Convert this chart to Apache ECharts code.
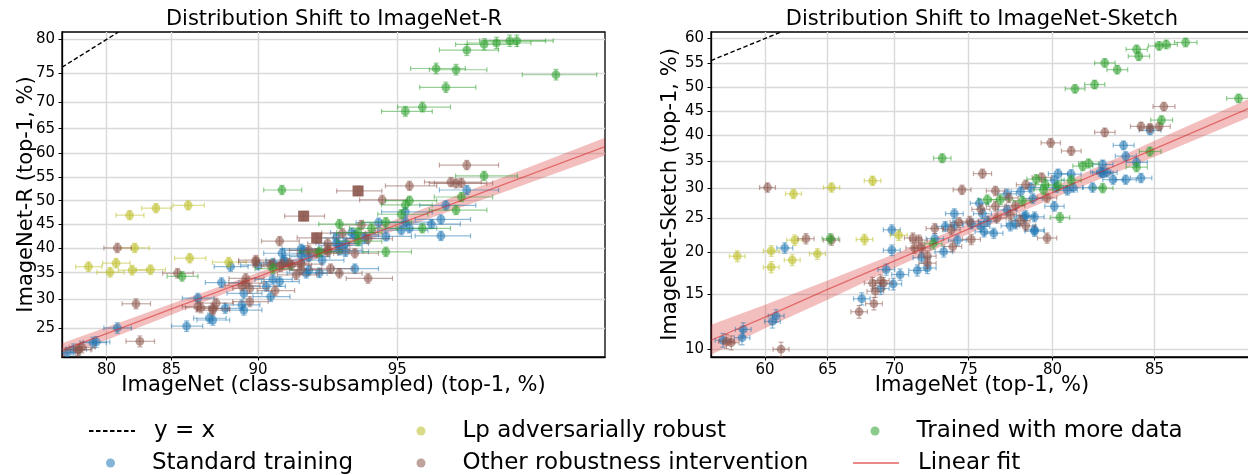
<!DOCTYPE html>
<html><head><meta charset="utf-8">
<script src="https://cdn.jsdelivr.net/npm/echarts@6/dist/echarts.min.js"></script>
<style>html,body{margin:0;padding:0;background:#fff}#c{width:1248px;height:475px}</style>
</head><body><div id="c"></div>
<script>
// ---------------- DATA (ImageNet acc %, shifted acc %) ----------------
// Left panel: ImageNet-R
const rStandard = [[96.5,52.3],[96.1,49.0],[95.2,47.6],[96.0,46.0],[94.5,45.3],[95.2,45.4],[95.8,45.0],[95.3,44.1],[95.1,43.7],[96.0,42.5],[93.8,42.7],[93.2,42.1],[94.1,42.0],[94.7,42.4],[93.7,43.2],[93.2,41.0],[93.3,40.5],[93.5,40.9],[92.0,39.5],[93.3,39.5],[93.5,39.2],[92.7,37.5],[92.2,38.2],[91.9,38.5],[91.2,37.5],[93.8,35.8],[92.2,35.5],[90.7,36.9],[90.0,36.5],[89.3,31.1],[90.4,32.4],[91.0,33.3],[90.6,30.5],[92.1,34.9],[92.6,35.0],[91.2,37.1],[88.6,36.2],[88.1,33.1],[90.7,33.7],[86.7,30.2],[88.3,28.4],[89.2,29.0],[89.3,28.1],[87.4,26.7],[87.6,26.4],[86.0,25.4],[80.9,25.1],[78.8,22.8],[77.0,21.8],[79.1,22.9],[76.4,21.3],[91.1,38.9],[91.9,39.8]];
const rLp = [[81.9,46.9],[83.9,48.4],[86.1,49.0],[82.3,40.0],[78.4,36.2],[80.8,36.9],[80.3,35.1],[82.1,35.5],[83.5,35.6],[86.2,37.9],[88.5,37.1]];
const rOther = [[96.5,57.6],[95.3,53.2],[96.2,54.0],[96.3,53.7],[96.4,53.8],[94.6,50.2],[94.0,44.8],[93.4,43.1],[94.2,41.9],[91.0,41.4],[92.9,40.9],[92.9,39.7],[92.2,39.5],[93.8,38.9],[92.5,38.9],[92.9,39.2],[94.2,33.9],[93.3,34.9],[93.0,35.8],[91.7,34.6],[91.4,36.9],[91.0,36.2],[89.9,37.5],[89.4,33.9],[89.2,32.5],[90.8,31.6],[91.9,35.6],[85.4,34.9],[90.6,36.5],[91.1,36.7],[91.5,36.5],[91.9,36.7],[89.9,37.1],[89.4,33.0],[89.6,32.0],[87.8,29.3],[87.6,28.1],[86.7,28.7],[89.6,29.6],[80.9,40.0],[82.4,29.2],[82.7,23.0],[77.5,21.8],[77.8,22.1],[77.4,21.7],[86.9,28.5],[87.6,28.4]];
const rOtherHighlighted = [[93.9,52.1],[92.0,46.7],[92.5,42.1]];
const rMoreData = [[96.8,79.3],[97.0,79.5],[97.2,79.8],[97.3,79.8],[96.5,78.5],[95.9,75.7],[96.3,75.5],[97.8,74.7],[96.1,72.6],[95.6,69.1],[95.2,68.3],[96.8,55.3],[96.4,50.8],[95.3,50.0],[95.2,49.1],[96.3,48.0],[95.1,47.1],[91.1,52.3],[93.3,45.0],[94.7,45.4],[94.3,44.1],[95.6,44.1],[93.9,43.2],[93.9,41.4],[94.7,39.2],[92.6,39.2],[90.7,35.8],[85.7,34.3]];
// linear fit: x, fit, lower, upper
const rFitX  = [75.9, 80, 85, 90, 93, 95, 97, 98.3];
const rFitY  = [21.7, 24.2, 28.3, 34.2, 39.7, 44.9, 52.9, 61.4];
const rFitLo = [20.7, 23.2, 27.3, 33.5, 38.9, 43.8, 51.3, 59.6];
const rFitHi = [22.7, 25.2, 29.2, 35.0, 40.5, 46.1, 54.5, 63.2];

// Right panel: ImageNet-Sketch
const sStandard = [[84.8,41.0],[83.6,38.0],[83.7,35.9],[84.2,34.7],[82.6,34.3],[84.4,31.8],[82.6,32.7],[82.8,32.8],[83.1,31.5],[83.7,31.5],[80.3,32.6],[81.0,32.5],[81.1,30.1],[82.1,30.1],[80.8,29.6],[80.2,30.1],[82.5,32.9],[80.1,31.4],[78.8,30.1],[78.2,29.4],[77.4,29.0],[78.9,28.2],[80.1,26.9],[75.7,27.4],[75.9,25.7],[77.4,26.3],[78.4,25.2],[79.0,25.2],[74.1,25.7],[75.2,24.1],[76.2,24.5],[75.8,23.7],[76.0,22.9],[76.6,22.7],[77.6,23.8],[77.9,24.1],[79.0,23.2],[73.5,23.7],[74.1,23.9],[69.8,23.2],[72.8,21.9],[73.4,20.1],[74.3,21.7],[69.8,20.3],[71.9,19.3],[71.6,17.7],[72.3,18.0],[70.4,17.2],[69.4,17.8],[69.9,16.1],[61.6,20.6],[69.0,15.6],[67.6,14.5],[60.9,12.8],[60.6,12.3],[58.2,11.6],[58.1,10.9],[56.5,10.7],[78.5,25.4],[79.0,23.0]];
const sLp = [[62.3,29.0],[65.3,30.1],[68.4,31.3],[70.3,22.4],[62.4,21.7],[67.8,21.8],[60.5,20.2],[64.2,19.8],[57.7,19.5],[62.2,19.0],[60.5,18.1]];
const sOther = [[60.2,30.1],[85.4,45.9],[84.4,41.8],[84.8,41.5],[85.2,41.8],[82.7,40.6],[79.9,38.5],[81.0,36.9],[75.9,32.6],[74.6,29.7],[76.7,29.5],[79.4,31.9],[78.5,30.6],[77.5,28.3],[79.7,28.3],[76.7,26.9],[77.9,27.0],[75.8,26.4],[76.8,25.0],[77.6,25.5],[78.2,24.6],[74.4,24.3],[75.1,24.5],[78.5,23.8],[79.7,22.0],[72.8,23.4],[73.9,23.2],[71.3,22.0],[71.7,21.7],[71.4,20.6],[71.9,20.6],[74.0,20.8],[75.2,21.8],[72.3,18.6],[72.3,19.5],[69.2,16.2],[63.3,21.9],[65.3,21.7],[68.4,16.2],[69.0,16.5],[68.6,15.3],[68.5,14.0],[67.4,13.2],[56.8,10.6],[57.2,10.5],[61.3,10.0]];
const sMoreData = [[73.3,35.5],[86.3,59.2],[85.5,58.8],[85.2,58.5],[84.2,57.8],[84.3,56.4],[82.7,55.0],[83.3,53.6],[82.2,50.5],[81.2,49.6],[88.3,47.6],[85.3,43.1],[84.8,36.8],[81.9,34.5],[81.6,34.0],[84.2,33.8],[79.1,31.6],[79.6,30.6],[82.6,30.0],[80.3,30.4],[81.0,31.4],[79.5,29.7],[80.4,25.1],[76.2,28.0],[77.0,28.0],[78.3,27.8],[72.7,21.2],[65.2,21.9]];
const sFitX  = [55.5, 60, 65, 70, 75, 80, 85, 88.8];
const sFitY  = [10.7, 12.7, 15.5, 18.9, 23.3, 29.2, 37.3, 45.9];
const sFitLo = [9.6, 11.7, 14.4, 18.0, 22.6, 28.2, 35.8, 44.0];
const sFitHi = [12.0, 13.9, 16.5, 19.8, 24.1, 30.1, 38.9, 47.9];

// tick labels
const rXTicks = [80, 85, 90, 95];
const rYTicks = [25, 30, 35, 40, 45, 50, 55, 60, 65, 70, 75, 80];
const sXTicks = [60, 65, 70, 75, 80, 85];
const sYTicks = [10, 15, 20, 25, 30, 35, 40, 45, 50, 55, 60];

// ---------------- helpers ----------------
const FONT = 'DejaVu Sans';
const C = {blue:'#1f77b4', green:'#2ca02c', brown:'#8c564b', olive:'#bcbd22', red:'#d62728'};
const logit = p => Math.log(p / (100 - p));
const invLogit = v => 100 / (1 + Math.exp(-v));
// binomial 95% interval around each accuracy, shown on the logit axes
function withCI(points, nx, ny) {
  return points.map(([a, b]) => {
    const ea = 1.96 * Math.sqrt(a * (100 - a) / nx);
    const eb = 1.96 * Math.sqrt(b * (100 - b) / ny);
    return [logit(a), logit(b), logit(a - ea), logit(a + ea), logit(b - eb), logit(b + eb)];
  });
}
function pointRenderer(color, square) {
  return function (params, api) {
    const x = api.value(0), y = api.value(1);
    const c = api.coord([x, y]);
    const l = api.coord([api.value(2), y]), r = api.coord([api.value(3), y]);
    const b = api.coord([x, api.value(4)]), t = api.coord([x, api.value(5)]);
    const st = {stroke: color, lineWidth: 1.2, opacity: 0.5};
    const cap = 2.5;
    const seg = (x1, y1, x2, y2) => ({type: 'line', shape: {x1, y1, x2, y2}, style: st});
    const ch = [
      seg(l[0], c[1], r[0], c[1]), seg(l[0], c[1] - cap, l[0], c[1] + cap), seg(r[0], c[1] - cap, r[0], c[1] + cap),
      seg(c[0], b[1], c[0], t[1]), seg(c[0] - cap, b[1], c[0] + cap, b[1]), seg(c[0] - cap, t[1], c[0] + cap, t[1])
    ];
    if (square) ch.push({type: 'rect', shape: {x: c[0] - 5.5, y: c[1] - 5.5, width: 11, height: 11}, style: {fill: color, opacity: 0.9}});
    else ch.push({type: 'circle', shape: {cx: c[0], cy: c[1], r: 4.4}, style: {fill: color, opacity: 0.58}});
    return {type: 'group', children: ch};
  };
}
function pointSeries(name, pts, color, gi, nx, ny, square) {
  return {
    type: 'custom', name, xAxisIndex: gi, yAxisIndex: gi, clip: true, z: square ? 4 : 3,
    itemStyle: {color},
    encode: {x: [0, 2, 3], y: [1, 4, 5]},
    renderItem: pointRenderer(color, square),
    data: withCI(pts, nx, ny)
  };
}
function bandSeries(gi, xs, lo, hi) {
  const upper = xs.map((x, i) => [logit(x), logit(hi[i])]);
  const lower = xs.map((x, i) => [logit(x), logit(lo[i])]).reverse();
  const poly = upper.concat(lower);
  return {
    type: 'custom', name: 'Linear fit band', xAxisIndex: gi, yAxisIndex: gi, z: 2, silent: true,
    data: [poly[0]],
    renderItem: (params, api) => ({
      type: 'polygon',
      shape: {points: poly.map(p => api.coord(p))},
      style: {fill: 'rgba(214,39,40,0.3)', stroke: 'none'}
    })
  };
}
function fitSeries(gi, xs, ys) {
  return {
    type: 'line', name: 'Linear fit', xAxisIndex: gi, yAxisIndex: gi, z: 5, symbol: 'none', silent: true,
    lineStyle: {color: 'rgba(214,39,40,0.55)', width: 1.3},
    itemStyle: {color: 'rgba(214,39,40,0.55)'},
    data: xs.map((x, i) => [logit(x), logit(ys[i])])
  };
}
function diagSeries(gi, lo, hi) {
  return {
    type: 'line', name: 'y = x', xAxisIndex: gi, yAxisIndex: gi, z: 5, symbol: 'none', silent: true,
    lineStyle: {color: '#000', width: 1.4, type: [4.5, 2.5]},
    itemStyle: {color: '#000'},
    data: [[logit(lo), logit(lo)], [logit(hi), logit(hi)]]
  };
}
function valueAxis(gi, min, max, ticks, isX, name, nameGap) {
  const cv = ticks.map(logit);
  return {
    type: 'value', gridIndex: gi, min: logit(min), max: logit(max),
    name, nameLocation: 'middle', nameGap, nameMoveOverlap: false,
    nameTextStyle: {fontFamily: FONT, fontSize: 21, color: '#000'},
    axisLine: {show: true, onZero: false, lineStyle: {color: '#000', width: 1.3}},
    axisTick: {show: true, length: 3.5, inside: false, customValues: cv, lineStyle: {color: '#000', width: 1}},
    axisLabel: {customValues: cv, margin: isX ? 6 : 7, fontFamily: FONT, fontSize: 15, color: '#000',
      formatter: v => String(Math.round(invLogit(v)))},
    splitLine: {show: true, lineStyle: {color: '#d9d9d9', width: 1.4}}
  };
}

// axis limits
const rX = [75.9, 98.3], rY = [20.7, 81.0];
const sX = [55.5, 88.8], sY = [9.43, 61.3];
const NX_R = 4600, NY_R = 10000, NX_S = 22000, NY_S = 12000;

const chart = echarts.init(document.getElementById('c'), null, {renderer: 'canvas'});
function legendAt(left, top, item, isLine) {
  const gap = isLine ? 14 : 32;
  return {
    left, top, padding: 0, itemWidth: isLine ? 46 : 9, itemHeight: 9, selectedMode: false,
    formatter: n => '{s|}' + n,
    textStyle: {fontFamily: FONT, fontSize: 23, color: '#000', lineHeight: 26, rich: {s: {width: gap}}},
    data: [item]
  };
}
const hidden = {color: 'rgba(0,0,0,0)', opacity: 0, borderWidth: 0};
chart.setOption({
  animation: false,
  backgroundColor: '#fff',
  title: [
    {text: 'Distribution Shift to ImageNet-R', left: 334, top: 8, textAlign: 'center', padding: 0,
     textStyle: {fontFamily: FONT, fontSize: 21, fontWeight: 'normal', color: '#000', lineHeight: 24}},
    {text: 'Distribution Shift to ImageNet-Sketch', left: 982, top: 8, textAlign: 'center', padding: 0,
     textStyle: {fontFamily: FONT, fontSize: 21, fontWeight: 'normal', color: '#000', lineHeight: 24}}
  ],
  grid: [
    {left: 62, right: 643, top: 32, bottom: 118, show: true, borderColor: '#000', borderWidth: 1.3, backgroundColor: '#fff', containLabel: false, outerBoundsMode: 'none'},
    {left: 711, right: -5, top: 32, bottom: 118, show: true, borderColor: '#000', borderWidth: 1.3, backgroundColor: '#fff', containLabel: false, outerBoundsMode: 'none'}
  ],
  xAxis: [
    valueAxis(0, rX[0], rX[1], rXTicks, true, 'ImageNet (class-subsampled) (top-1, %)', 18),
    valueAxis(1, sX[0], sX[1], sXTicks, true, 'ImageNet (top-1, %)', 18)
  ],
  yAxis: [
    valueAxis(0, rY[0], rY[1], rYTicks, false, 'ImageNet-R (top-1, %)', 25),
    valueAxis(1, sY[0], sY[1], sYTicks, false, 'ImageNet-Sketch (top-1, %)', 30)
  ],
  legend: [
    legendAt(88, 418, {name: 'y = x', itemStyle: hidden}, true),
    legendAt(416.5, 418, {name: 'Lp adversarially robust', icon: 'circle', itemStyle: {color: 'rgba(188,189,34,0.55)'}}),
    legendAt(870.5, 418, {name: 'Trained with more data', icon: 'circle', itemStyle: {color: 'rgba(44,160,44,0.55)'}}),
    legendAt(106, 450, {name: 'Standard training', icon: 'circle', itemStyle: {color: 'rgba(31,119,180,0.55)'}}),
    legendAt(416.5, 450, {name: 'Other robustness intervention', icon: 'circle', itemStyle: {color: 'rgba(140,86,75,0.55)'}}),
    legendAt(852, 450, {name: 'Linear fit', itemStyle: hidden}, true)
  ],
  series: [
    bandSeries(0, rFitX, rFitLo, rFitHi),
    pointSeries('Standard training', rStandard, C.blue, 0, NX_R, NY_R),
    pointSeries('Lp adversarially robust', rLp, C.olive, 0, NX_R, NY_R),
    pointSeries('Other robustness intervention', rOther, C.brown, 0, NX_R, NY_R),
    pointSeries('Other robustness intervention', rOtherHighlighted, C.brown, 0, NX_R, NY_R, true),
    pointSeries('Trained with more data', rMoreData, C.green, 0, NX_R, NY_R),
    fitSeries(0, rFitX, rFitY),
    diagSeries(0, rX[0], rY[1]),

    bandSeries(1, sFitX, sFitLo, sFitHi),
    pointSeries('Standard training', sStandard, C.blue, 1, NX_S, NY_S),
    pointSeries('Lp adversarially robust', sLp, C.olive, 1, NX_S, NY_S),
    pointSeries('Other robustness intervention', sOther, C.brown, 1, NX_S, NY_S),
    pointSeries('Trained with more data', sMoreData, C.green, 1, NX_S, NY_S),
    fitSeries(1, sFitX, sFitY),
    diagSeries(1, sX[0], sY[1])
  ]
});
</script>
</body></html>
